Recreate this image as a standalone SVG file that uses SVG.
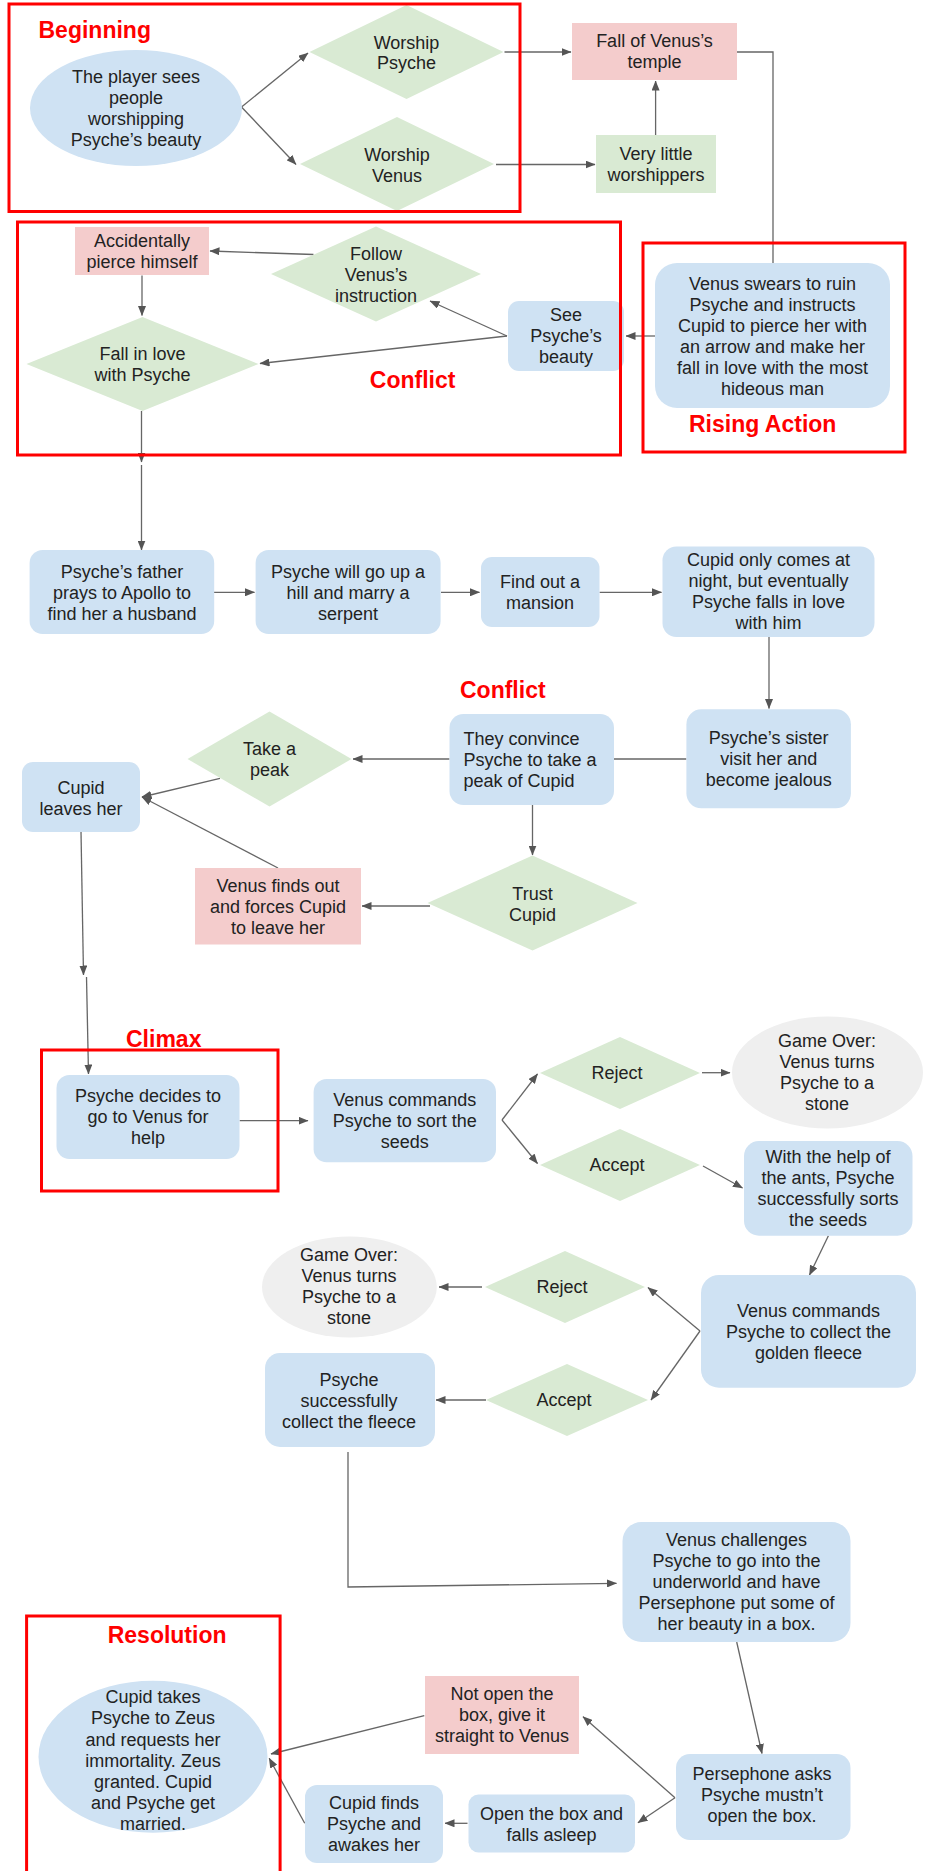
<svg xmlns="http://www.w3.org/2000/svg" width="926" height="1871" viewBox="0 0 926 1871">
<defs>
<style>
.blue{fill:#cfe2f3}
.green{fill:#d9ead3}
.pink{fill:#f4cccc}
.gray{fill:#efefef}
.t{font-family:"Liberation Sans",Arial,sans-serif;font-size:18px;fill:#222;text-anchor:middle}
.tl{text-anchor:start}
.title{font-family:"Liberation Sans",Arial,sans-serif;font-size:23px;font-weight:bold;fill:#ff0000}
.frame{fill:none;stroke:#ff0000;stroke-width:3}
.c{fill:none;stroke:#666;stroke-width:1.3}
.a{marker-end:url(#ah)}
</style>
<marker id="ah" viewBox="0 0 10 8" refX="9.5" refY="4" markerWidth="10" markerHeight="8" markerUnits="userSpaceOnUse" orient="auto">
<path d="M0,0 L10,4 L0,8 z" fill="#555"/>
</marker>
</defs>
<rect x="0" y="0" width="926" height="1871" fill="#ffffff"/>

<g id="connectors">
<line class="c a" x1="241.5" y1="107" x2="308" y2="53"/>
<line class="c a" x1="241.5" y1="107" x2="296" y2="164.5"/>
<line class="c a" x1="504.5" y1="52" x2="571" y2="52"/>
<line class="c a" x1="496" y1="164.5" x2="595" y2="164.5"/>
<line class="c a" x1="655.6" y1="135" x2="655.6" y2="81"/>
<polyline class="c" points="737,52 773,52 773,263"/>
<line class="c a" x1="655" y1="336" x2="626" y2="336"/>
<line class="c a" x1="507" y1="336" x2="430" y2="301"/>
<line class="c a" x1="507" y1="336" x2="260" y2="363.5"/>
<line class="c a" x1="313.5" y1="254.5" x2="210" y2="251"/>
<line class="c a" x1="142" y1="275.5" x2="142" y2="315.5"/>
<line class="c a" x1="141.5" y1="411" x2="141.5" y2="462"/>
<line class="c a" x1="141.5" y1="465" x2="141.5" y2="550"/>
<line class="c a" x1="214" y1="592.3" x2="254.5" y2="592.3"/>
<line class="c a" x1="441" y1="592.3" x2="479.5" y2="592.3"/>
<line class="c a" x1="599.5" y1="592.3" x2="661.5" y2="592.3"/>
<line class="c a" x1="769" y1="637" x2="769" y2="708.5"/>
<line class="c" x1="686.4" y1="759" x2="614" y2="759"/>
<line class="c a" x1="449.5" y1="759" x2="353" y2="759"/>
<line class="c a" x1="220" y1="778.3" x2="142" y2="797"/>
<line class="c a" x1="278" y1="868" x2="142" y2="797"/>
<line class="c a" x1="532.5" y1="805" x2="532.5" y2="855"/>
<line class="c a" x1="430" y1="906" x2="362" y2="906"/>
<line class="c a" x1="81" y1="831.5" x2="83.5" y2="975"/>
<line class="c a" x1="86.5" y1="977" x2="88.5" y2="1074"/>
<line class="c a" x1="239.6" y1="1120.7" x2="308" y2="1120.7"/>
<line class="c a" x1="502" y1="1120" x2="537.5" y2="1074"/>
<line class="c a" x1="502" y1="1120" x2="537.5" y2="1163.5"/>
<line class="c a" x1="702" y1="1072.7" x2="730" y2="1072.7"/>
<line class="c a" x1="703" y1="1166" x2="742.5" y2="1188"/>
<line class="c a" x1="828.4" y1="1235.7" x2="809.5" y2="1275"/>
<line class="c a" x1="700" y1="1331" x2="648" y2="1287.5"/>
<line class="c a" x1="700" y1="1331" x2="651" y2="1400"/>
<line class="c a" x1="482" y1="1287" x2="439" y2="1287"/>
<line class="c a" x1="486" y1="1400" x2="436" y2="1400"/>
<polyline class="c a" points="348,1452 348,1587 616.5,1583.3"/>
<line class="c a" x1="736.7" y1="1642" x2="762" y2="1753.5"/>
<line class="c a" x1="675" y1="1797.7" x2="583" y2="1716.7"/>
<line class="c a" x1="675" y1="1797.7" x2="638" y2="1822.7"/>
<line class="c a" x1="467.5" y1="1823.3" x2="445" y2="1823.3"/>
<line class="c a" x1="424.3" y1="1715.7" x2="271" y2="1754"/>
<line class="c a" x1="304.7" y1="1823.3" x2="269.2" y2="1758.3"/>
</g>

<g id="start">
<ellipse class="blue" cx="136" cy="108" rx="106" ry="58"/>
<text class="t"><tspan x="136" y="83">The player sees</tspan><tspan x="136" y="104">people</tspan><tspan x="136" y="125">worshipping</tspan><tspan x="136" y="146">Psyche’s beauty</tspan></text>
</g>
<g id="worship-psyche">
<polygon class="green" points="406.5,5 503.5,52 406.5,99 309.5,52"/>
<text class="t"><tspan x="406.5" y="48.5">Worship</tspan><tspan x="406.5" y="69">Psyche</tspan></text>
</g>
<g id="worship-venus">
<polygon class="green" points="397,117 494,164 397,211 300,164"/>
<text class="t"><tspan x="397" y="160.5">Worship</tspan><tspan x="397" y="181.5">Venus</tspan></text>
</g>
<g id="fall-temple">
<rect class="pink" x="572" y="23" width="165" height="57"/>
<text class="t"><tspan x="654.5" y="47">Fall of Venus’s</tspan><tspan x="654.5" y="68">temple</tspan></text>
</g>
<g id="very-little">
<rect class="green" x="596" y="135" width="120" height="58"/>
<text class="t"><tspan x="656" y="160">Very little</tspan><tspan x="656" y="181">worshippers</tspan></text>
</g>
<g id="venus-swears">
<rect class="blue" x="655" y="263" width="235" height="145" rx="22"/>
<text class="t"><tspan x="772.5" y="289.5">Venus swears to ruin</tspan><tspan x="772.5" y="310.5">Psyche and instructs</tspan><tspan x="772.5" y="331.5">Cupid to pierce her with</tspan><tspan x="772.5" y="352.5">an arrow and make her</tspan><tspan x="772.5" y="373.5">fall in love with the most</tspan><tspan x="772.5" y="394.5">hideous man</tspan></text>
</g>
<g id="see-beauty">
<rect class="blue" x="508" y="301" width="116" height="70" rx="11"/>
<text class="t"><tspan x="566" y="321">See</tspan><tspan x="566" y="342">Psyche’s</tspan><tspan x="566" y="363">beauty</tspan></text>
</g>
<g id="follow">
<polygon class="green" points="376,226.5 481,274 376,321.5 271,274"/>
<text class="t"><tspan x="376" y="259.5">Follow</tspan><tspan x="376" y="280.5">Venus’s</tspan><tspan x="376" y="301.5">instruction</tspan></text>
</g>
<g id="accidentally">
<rect class="pink" x="75" y="227" width="134" height="48"/>
<text class="t"><tspan x="142" y="247">Accidentally</tspan><tspan x="142" y="268">pierce himself</tspan></text>
</g>
<g id="fall-love">
<polygon class="green" points="142.5,317 258.5,364 142.5,411 26.5,364"/>
<text class="t"><tspan x="142.5" y="360">Fall in love</tspan><tspan x="142.5" y="381">with Psyche</tspan></text>
</g>
<g id="father">
<rect class="blue" x="29.6" y="550" width="184.6" height="84" rx="13"/>
<text class="t"><tspan x="122" y="577.5">Psyche’s father</tspan><tspan x="122" y="598.5">prays to Apollo to</tspan><tspan x="122" y="619.5">find her a husband</tspan></text>
</g>
<g id="serpent">
<rect class="blue" x="255.6" y="550" width="185" height="84" rx="13"/>
<text class="t"><tspan x="348" y="577.5">Psyche will go up a</tspan><tspan x="348" y="598.5">hill and marry a</tspan><tspan x="348" y="619.5">serpent</tspan></text>
</g>
<g id="mansion">
<rect class="blue" x="481" y="557" width="118.5" height="70" rx="11"/>
<text class="t"><tspan x="540" y="587.5">Find out a</tspan><tspan x="540" y="608.5">mansion</tspan></text>
</g>
<g id="cupid-night">
<rect class="blue" x="662.5" y="546.5" width="212" height="90.5" rx="14"/>
<text class="t"><tspan x="768.5" y="565.5">Cupid only comes at</tspan><tspan x="768.5" y="586.5">night, but eventually</tspan><tspan x="768.5" y="607.5">Psyche falls in love</tspan><tspan x="768.5" y="628.5">with him</tspan></text>
</g>
<g id="sister">
<rect class="blue" x="686.4" y="709.3" width="164.5" height="99" rx="15"/>
<text class="t"><tspan x="768.7" y="744">Psyche’s sister</tspan><tspan x="768.7" y="765">visit her and</tspan><tspan x="768.7" y="786">become jealous</tspan></text>
</g>
<g id="convince">
<rect class="blue" x="449.5" y="714" width="164.5" height="91" rx="14"/>
<text class="t tl"><tspan x="463.5" y="745">They convince</tspan><tspan x="463.5" y="766">Psyche to take a</tspan><tspan x="463.5" y="787">peak of Cupid</tspan></text>
</g>
<g id="take-peak">
<polygon class="green" points="269.5,711.5 351.5,759 269.5,806.5 187.5,759"/>
<text class="t"><tspan x="269.5" y="755">Take a</tspan><tspan x="269.5" y="776">peak</tspan></text>
</g>
<g id="cupid-leaves">
<rect class="blue" x="22" y="762" width="118" height="70" rx="11"/>
<text class="t"><tspan x="81" y="793.5">Cupid</tspan><tspan x="81" y="814.5">leaves her</tspan></text>
</g>
<g id="trust">
<polygon class="green" points="532.5,855.5 637.5,903 532.5,950.5 427.5,903"/>
<text class="t"><tspan x="532.5" y="899.5">Trust</tspan><tspan x="532.5" y="920.5">Cupid</tspan></text>
</g>
<g id="venus-finds">
<rect class="pink" x="195" y="868" width="166" height="76.5"/>
<text class="t"><tspan x="278" y="892">Venus finds out</tspan><tspan x="278" y="913">and forces Cupid</tspan><tspan x="278" y="934">to leave her</tspan></text>
</g>
<g id="decides">
<rect class="blue" x="56.5" y="1075" width="183" height="84" rx="13"/>
<text class="t"><tspan x="148" y="1102">Psyche decides to</tspan><tspan x="148" y="1123">go to Venus for</tspan><tspan x="148" y="1144">help</tspan></text>
</g>
<g id="sort-seeds">
<rect class="blue" x="313.6" y="1079" width="182.4" height="83.3" rx="13"/>
<text class="t"><tspan x="404.8" y="1105.5">Venus commands</tspan><tspan x="404.8" y="1126.5">Psyche to sort the</tspan><tspan x="404.8" y="1147.5">seeds</tspan></text>
</g>
<g id="reject1">
<polygon class="green" points="620,1037 700,1073 620,1109 540,1073"/>
<text class="t" x="617" y="1079">Reject</text>
</g>
<g id="gameover1">
<ellipse class="gray" cx="827.5" cy="1072.5" rx="95.5" ry="56"/>
<text class="t"><tspan x="827" y="1047">Game Over:</tspan><tspan x="827" y="1068">Venus turns</tspan><tspan x="827" y="1089">Psyche to a</tspan><tspan x="827" y="1110">stone</tspan></text>
</g>
<g id="accept1">
<polygon class="green" points="620,1129 700,1165 620,1201 540,1165"/>
<text class="t" x="617" y="1171">Accept</text>
</g>
<g id="ants">
<rect class="blue" x="744" y="1141" width="168.5" height="94.7" rx="15"/>
<text class="t"><tspan x="828" y="1162.5">With the help of</tspan><tspan x="828" y="1183.5">the ants, Psyche</tspan><tspan x="828" y="1204.5">successfully sorts</tspan><tspan x="828" y="1225.5">the seeds</tspan></text>
</g>
<g id="golden-fleece">
<rect class="blue" x="701" y="1275" width="215" height="112.7" rx="18"/>
<text class="t"><tspan x="808.5" y="1317">Venus commands</tspan><tspan x="808.5" y="1338">Psyche to collect the</tspan><tspan x="808.5" y="1359">golden fleece</tspan></text>
</g>
<g id="reject2">
<polygon class="green" points="565,1251 645,1287 565,1323 485,1287"/>
<text class="t" x="562" y="1293">Reject</text>
</g>
<g id="gameover2">
<ellipse class="gray" cx="349.4" cy="1287" rx="87.4" ry="50.5"/>
<text class="t"><tspan x="349" y="1261">Game Over:</tspan><tspan x="349" y="1282">Venus turns</tspan><tspan x="349" y="1303">Psyche to a</tspan><tspan x="349" y="1324">stone</tspan></text>
</g>
<g id="accept2">
<polygon class="green" points="567,1364 648,1400 567,1436 486,1400"/>
<text class="t" x="564" y="1406">Accept</text>
</g>
<g id="collect-fleece">
<rect class="blue" x="265" y="1353" width="170" height="94" rx="15"/>
<text class="t"><tspan x="349" y="1385.5">Psyche</tspan><tspan x="349" y="1406.5">successfully</tspan><tspan x="349" y="1427.5">collect the fleece</tspan></text>
</g>
<g id="underworld">
<rect class="blue" x="622.5" y="1522" width="228" height="120" rx="19"/>
<text class="t"><tspan x="736.5" y="1545.5">Venus challenges</tspan><tspan x="736.5" y="1566.5">Psyche to go into the</tspan><tspan x="736.5" y="1587.5">underworld and have</tspan><tspan x="736.5" y="1608.5">Persephone put some of</tspan><tspan x="736.5" y="1629.5">her beauty in a box.</tspan></text>
</g>
<g id="persephone">
<rect class="blue" x="676" y="1754" width="174.5" height="86" rx="14"/>
<text class="t"><tspan x="762" y="1780">Persephone asks</tspan><tspan x="762" y="1801">Psyche mustn’t</tspan><tspan x="762" y="1822">open the box.</tspan></text>
</g>
<g id="not-open">
<rect class="pink" x="425" y="1676" width="154" height="78"/>
<text class="t"><tspan x="502" y="1700">Not open the</tspan><tspan x="502" y="1721">box, give it</tspan><tspan x="502" y="1742">straight to Venus</tspan></text>
</g>
<g id="open-box">
<rect class="blue" x="468.5" y="1794.5" width="166.5" height="58" rx="10"/>
<text class="t"><tspan x="551.5" y="1819.5">Open the box and</tspan><tspan x="551.5" y="1840.5">falls asleep</tspan></text>
</g>
<g id="cupid-finds">
<rect class="blue" x="305" y="1785" width="138" height="78" rx="12"/>
<text class="t"><tspan x="374" y="1808.5">Cupid finds</tspan><tspan x="374" y="1829.5">Psyche and</tspan><tspan x="374" y="1850.5">awakes her</tspan></text>
</g>
<g id="resolution-node">
<ellipse class="blue" cx="153" cy="1756.7" rx="114.5" ry="76"/>
<text class="t"><tspan x="153" y="1703">Cupid takes</tspan><tspan x="153" y="1724">Psyche to Zeus</tspan><tspan x="153" y="1745.5">and requests her</tspan><tspan x="153" y="1766.5">immortality. Zeus</tspan><tspan x="153" y="1787.5">granted. Cupid</tspan><tspan x="153" y="1808.5">and Psyche get</tspan><tspan x="153" y="1829.5">married.</tspan></text>
</g>

<g id="frames">
<rect class="frame" x="9" y="4" width="511" height="207.5"/>
<rect class="frame" x="17.5" y="222" width="603" height="233"/>
<rect class="frame" x="643" y="243" width="262" height="209"/>
<rect class="frame" x="41.5" y="1050" width="236.5" height="141"/>
<rect class="frame" x="26.6" y="1616" width="253.5" height="270"/>
<text class="title" x="38.5" y="38.3">Beginning</text>
<text class="title" x="369.8" y="388">Conflict</text>
<text class="title" x="689" y="431.7">Rising Action</text>
<text class="title" x="460" y="698.3">Conflict</text>
<text class="title" x="126" y="1046.7">Climax</text>
<text class="title" x="107.7" y="1643.3">Resolution</text>
</g>
</svg>
